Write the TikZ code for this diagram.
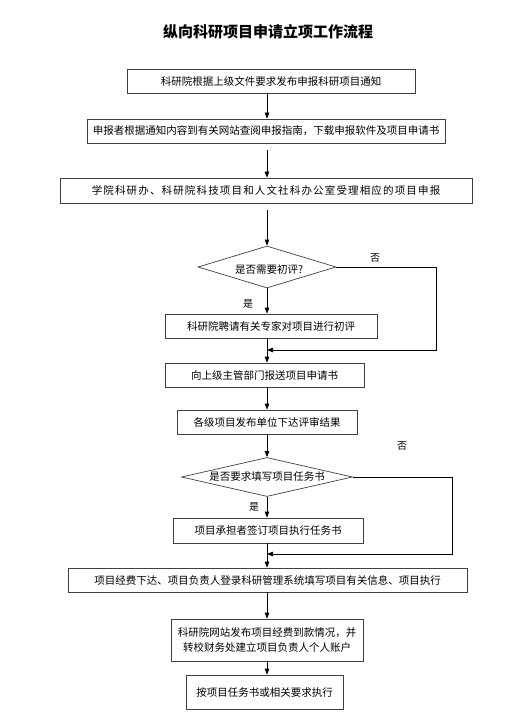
\documentclass[tikz,border=0pt]{standalone}
\usepackage{fontspec}
\setmainfont{Noto Sans CJK SC}
\usetikzlibrary{shapes.geometric,arrows.meta}
\begin{document}
\begin{tikzpicture}[x=1pt,y=-1pt,
  box/.style={draw=black!75, line width=0.7pt, rectangle, inner sep=0pt,
    font=\fontsize{10.5}{15}\selectfont, align=center},
  dia/.style={diamond, draw=black!75, line width=0.7pt, inner sep=0pt},
  txt/.style={font=\fontsize{10.5}{15}\selectfont, inner sep=0pt},
  lbl/.style={font=\fontsize{10}{12}\selectfont, inner sep=0pt},
  arr/.style={draw=black, line width=0.7pt, -{Triangle[length=6pt,width=4.5pt]}}]
\useasboundingbox (0,0) rectangle (529,727);
\coordinate (ax) at (267,0);
\node[font=\fontsize{15}{18}\selectfont\bfseries, inner sep=0pt] (title) at (268,32) {纵向科研项目申请立项工作流程};
\node[box, minimum width=288pt, minimum height=24pt] (b1) at (271,81) {科研院根据上级文件要求发布申报科研项目通知};
\node[box, minimum width=358pt, minimum height=24pt] (b2) at (266,131) {申报者根据通知内容到有关网站查阅申报指南，下载申报软件及项目申请书};
\node[box, minimum width=412pt, minimum height=25pt] (b3) at (266,190.5) {\addfontfeatures{LetterSpace=11}学院科研办、科研院科技项目和人文社科办公室受理相应的项目申报};
\node[dia, minimum width=138pt, minimum height=42pt] (d1) at (267,267) {};
\node[txt] (t1) at (269,270) {是否需要初评?};
\node[box, minimum width=212pt, minimum height=24pt] (b4) at (271,326) {科研院聘请有关专家对项目进行初评};
\node[box, minimum width=199pt, minimum height=24pt] (b5) at (264.5,375) {向上级主管部门报送项目申请书};
\node[box, minimum width=180pt, minimum height=24pt] (b6) at (267,422) {各级项目发布单位下达评审结果};
\node[dia, minimum width=171pt, minimum height=39pt] (d2) at (267,477) {};
\node[txt] (t2) at (267,477) {是否要求填写项目任务书};
\node[box, minimum width=190pt, minimum height=25pt] (b7) at (268,530.5) {项目承担者签订项目执行任务书};
\node[box, minimum width=399pt, minimum height=24pt] (b8) at (267.5,580) {项目经费下达、项目负责人登录科研管理系统填写项目有关信息、项目执行};
\node[box, minimum width=192pt, minimum height=42pt] (b9) at (267,640) {科研院网站发布项目经费到款情况，并\\转校财务处建立项目负责人个人账户};
\node[box, minimum width=157pt, minimum height=34pt] (b10) at (264.5,692) {按项目任务书或相关要求执行};
\node[lbl] (no1) at (375,258) {否};
\node[lbl] (yes1) at (248,304) {是};
\node[lbl] (no2) at (402,446) {否};
\node[lbl] (yes2) at (254,507) {是};
\coordinate (n1) at (436,350);
\coordinate (n2) at (452,554);
\draw[arr] (b1.south -| ax) -- (b2.north -| ax);
\draw[arr, shorten <=7pt] (b2.south -| ax) -- (b3.north -| ax);
\draw[arr, shorten <=7pt] (b3.south -| ax) -- (d1.north);
\draw[arr] (d1.south) -- (b4.north -| ax);
\draw[arr] (b4.south -| ax) -- (b5.north -| ax);
\draw[arr] (d1.east) -| (n1) -- (n1 -| ax);
\draw[arr] (b5.south -| ax) -- (b6.north -| ax);
\draw[arr] (b6.south -| ax) -- (d2.north);
\draw[arr] (d2.south) -- (b7.north -| ax);
\draw[arr] (b7.south -| ax) -- (b8.north -| ax);
\draw[arr] (d2.east) -| (n2) -- (n2 -| ax);
\draw[arr] (b8.south -| ax) -- (b9.north -| ax);
\draw[arr] (b9.south -| ax) -- (b10.north -| ax);
\end{tikzpicture}
\end{document}
